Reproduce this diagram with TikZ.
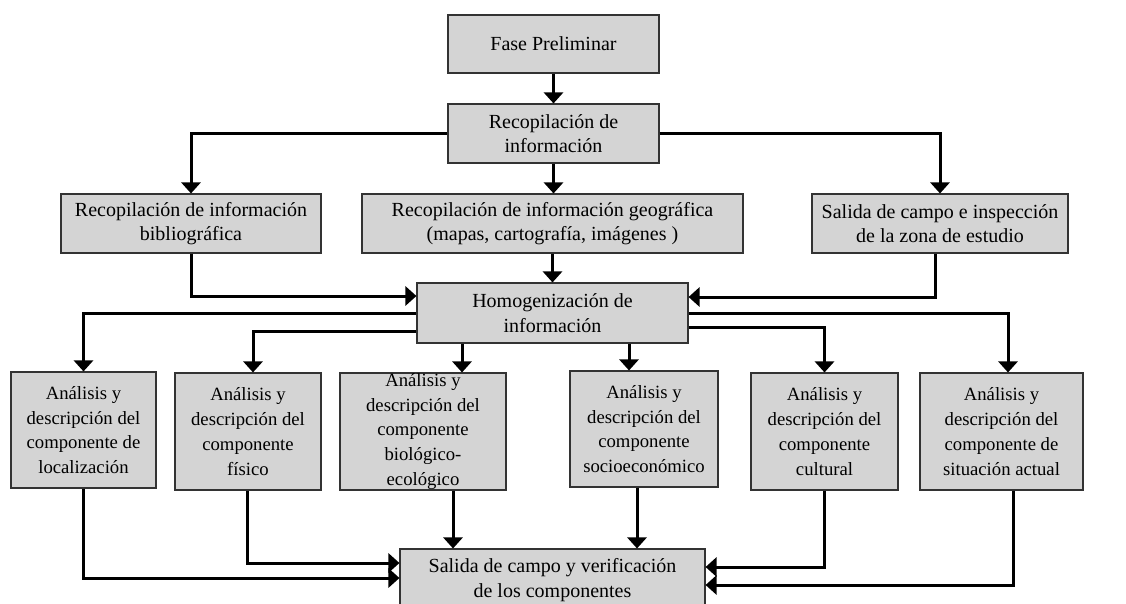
\documentclass[tikz,border=0pt]{standalone}
\usepackage{fontspec}
\setmainfont{Liberation Serif}
\usetikzlibrary{arrows.meta,calc}
\definecolor{boxfill}{HTML}{D4D4D4}
\definecolor{boxline}{HTML}{333333}
\begin{document}
\begin{tikzpicture}[x=1pt,y=-1pt,
  box/.style={draw=boxline,fill=boxfill,line width=1.1pt,rectangle,inner sep=0pt},
  txt/.style={align=center,inner sep=0pt,font=\fontsize{20}{24.5}\selectfont},
  stxt/.style={align=center,inner sep=0pt,font=\fontsize{18.7}{24.8}\selectfont},
  arr/.style={line width=3pt,-{Triangle[width=19pt,length=11pt]}}]
\useasboundingbox (0,0) rectangle (1126,603);

% boxes
\node[box,minimum width=211pt,minimum height=58pt] (fase)   at (553.5,44)   {};
\node[box,minimum width=211pt,minimum height=59pt] (recop)  at (553.5,133.5){};
\node[box,minimum width=260pt,minimum height=59pt] (biblio) at (191,223.5)  {};
\node[box,minimum width=381pt,minimum height=59pt] (geo)    at (552.5,223.5){};
\node[box,minimum width=256pt,minimum height=59pt] (campo)  at (940,223.5)  {};
\node[box,minimum width=271pt,minimum height=60pt] (homog)  at (552.5,313)  {};
\node[box,minimum width=145pt,minimum height=116pt] (c1) at (83.5,430)   {};
\node[box,minimum width=146pt,minimum height=117pt] (c2) at (248,431.5)  {};
\node[box,minimum width=166pt,minimum height=117pt] (c3) at (423,431.5)  {};
\node[box,minimum width=148pt,minimum height=116pt] (c4) at (644,429)    {};
\node[box,minimum width=147pt,minimum height=117pt] (c5) at (824.5,431.5){};
\node[box,minimum width=163pt,minimum height=117pt] (c6) at (1001.5,431.5){};
\node[box,minimum width=305pt,minimum height=66pt] (ver) at (552.5,582)  {};

% texts
\node[txt] (tfase)   at (fase)   {Fase Preliminar};
\node[txt] (trecop)  at (recop)  {Recopilación de\\información};
\node[txt] (tbiblio) at (biblio) {Recopilación de información\\bibliográfica};
\node[txt] (tgeo)    at (geo)    {Recopilación de información geográfica\\(mapas, cartografía, imágenes )};
\node[txt] (tcampo)  at (campo)  {Salida de campo e inspección\\de la zona de estudio};
\node[txt] (thomog)  at (homog)  {Homogenización de\\información};
\node[stxt] (tc1) at (c1) {Análisis y\\descripción del\\componente de\\localización};
\node[stxt] (tc2) at (c2) {Análisis y\\descripción del\\componente\\físico};
\node[stxt] (tc3) at (c3) {Análisis y\\descripción del\\componente\\biológico-\\ecológico};
\node[stxt] (tc4) at (c4) {Análisis y\\descripción del\\componente\\socioeconómico};
\node[stxt] (tc5) at (c5) {Análisis y\\descripción del\\componente\\cultural};
\node[stxt] (tc6) at (c6) {Análisis y\\descripción del\\componente de\\situación actual};
\node[txt] (tver) at ([yshift=2pt]ver) {Salida de campo y verificación\\de los componentes};

% connectors
\draw[arr] (fase.south) -- (recop.north);
\draw[arr] (recop.west) -| (biblio.north);
\draw[arr] (recop.south) -- (recop.south |- geo.north);
\draw[arr] (recop.east) -| (campo.north);

\draw[arr] (biblio.south) |- ([yshift=17pt]homog.west);
\draw[arr] (geo.south) -- (geo.south |- homog.north);
\draw[arr] ([xshift=-5pt]campo.south) |- ([yshift=16pt]homog.east);

\draw[arr] (homog.west) -| (c1.north);
\draw[arr] ([yshift=-18pt]homog.west) -| ([xshift=5pt]c2.north);
\draw[arr] ([xshift=-90.5pt]homog.south) -- ([xshift=-90.5pt]homog.south |- c3.north);
\draw[arr] ([xshift=76.5pt]homog.south) -- ([xshift=76.5pt]homog.south |- c4.north);
\draw[arr] ([yshift=-14pt]homog.east) -| (c5.north);
\draw[arr] (homog.east) -| ([xshift=6.5pt]c6.north);

\draw[arr] (c1.south) |- ([yshift=4pt]ver.west);
\draw[arr] ([xshift=-1pt]c2.south) |- ([yshift=19pt]ver.west);
\draw[arr] ([xshift=30pt]c3.south) -- ([xshift=30pt]c3.south |- ver.north);
\draw[arr] ([xshift=-7pt]c4.south) -- ([xshift=-7pt]c4.south |- ver.north);
\draw[arr] (c5.south) |- ([yshift=15pt]ver.east);
\draw[arr] ([xshift=11.5pt]c6.south) |- ([yshift=-3pt]ver.east);
\end{tikzpicture}
\end{document}
